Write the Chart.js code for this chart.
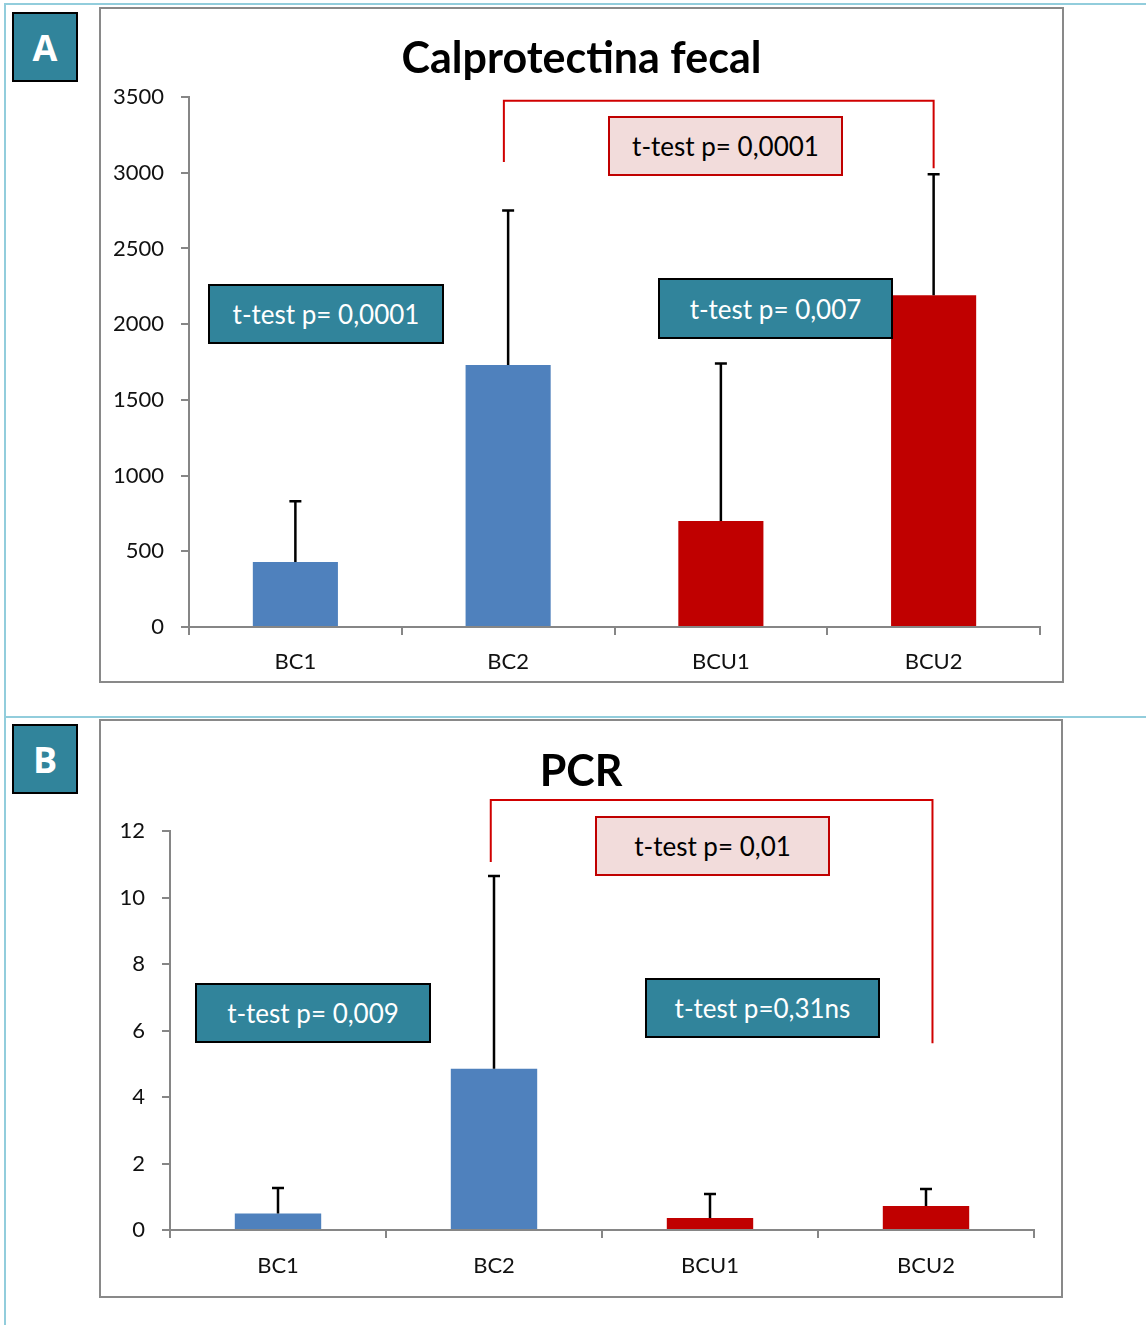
<!DOCTYPE html>
<html>
<head>
<meta charset="utf-8">
<script src="https://cdn.jsdelivr.net/npm/chart.js@4.4.1/dist/chart.umd.min.js"></script>
<style>
  body { margin: 0; background: #fff; width: 1146px; height: 1325px; position: relative; overflow: hidden; font-family: Lato, sans-serif; }
  .rule { position: absolute; background: #92CDDC; }
  .frame { position: absolute; border: 2px solid #898989; box-sizing: border-box; background: #fff; }
  .frame canvas { display: block; }
  .tag { position: absolute; width: 66px; height: 70px; box-sizing: border-box; background: #31849B; border: 2px solid #000;
         color: #fff; font: bold 36px "Open Sans", sans-serif; display: flex; align-items: center; justify-content: center; }
  .note { position: absolute; box-sizing: border-box; display: flex; align-items: center; justify-content: center;
          font: 26px Lato, sans-serif; white-space: nowrap; }
  .teal { background: #31849B; border: 2px solid #000; color: #fff; }
  .pink { background: #F2DCDB; border: 2px solid #C00000; color: #000; }
</style>
</head>
<body>
<div class="rule" style="left:4px;top:3px;width:1142px;height:2px"></div>
<div class="rule" style="left:4px;top:3px;width:2px;height:1322px"></div>
<div class="rule" style="left:4px;top:716px;width:1142px;height:2px"></div>

<div class="tag" style="left:12px;top:12px">A</div>
<div class="tag" style="left:12px;top:724px">B</div>

<div class="frame" style="left:99px;top:7px;width:965px;height:676px"><canvas id="calpro" width="961" height="672"></canvas></div>
<div class="frame" style="left:99px;top:719px;width:964px;height:579px"><canvas id="pcr" width="960" height="575"></canvas></div>

<div class="note pink" style="left:608px;top:116px;width:235px;height:60px">t-test p= 0,0001</div>
<div class="note teal" style="left:208px;top:284px;width:236px;height:60px">t-test p= 0,0001</div>
<div class="note teal" style="left:658px;top:278px;width:235px;height:61px">t-test p= 0,007</div>

<div class="note pink" style="left:595px;top:816px;width:235px;height:60px">t-test p= 0,01</div>
<div class="note teal" style="left:195px;top:983px;width:236px;height:60px">t-test p= 0,009</div>
<div class="note teal" style="left:645px;top:978px;width:235px;height:60px">t-test p=0,31ns</div>

<script>
// Groups
const categories = ['BC1', 'BC2', 'BCU1', 'BCU2'];
const barColors = ['#4F81BD', '#4F81BD', '#C00000', '#C00000'];

// Fecal calprotectin: means and upper deviation
const calproMeans = [430, 1730, 700, 2190];
const calproErrors = [400, 1020, 1040, 800];
const calproMax = 3500;
const calproStep = 500;

// PCR: means and upper deviation
const pcrMeans = [0.5, 4.85, 0.36, 0.72];
const pcrErrors = [0.76, 5.8, 0.72, 0.51];
const pcrMax = 12;
const pcrStep = 2;

// Comparison brackets (category positions and axis values)
const calproBracket = { from: 0.98, to: 3, top: 3475, leftEnd: 3070, rightEnd: 3030 };
const pcrBracket = { from: 0.985, to: 3.03, top: 12.93, leftEnd: 11.07, rightEnd: 5.62 };

const AXIS_GREY = '#868686';

// Upper error whiskers with a flat cap
const errorBars = {
  id: 'errorBars',
  afterDatasetsDraw(chart) {
    const ctx = chart.ctx;
    const y = chart.scales.y;
    chart.data.datasets.forEach((ds, di) => {
      const meta = chart.getDatasetMeta(di);
      meta.data.forEach((bar, i) => {
        const top = y.getPixelForValue(ds.data[i] + ds.errors[i]);
        ctx.save();
        ctx.strokeStyle = '#000';
        ctx.lineWidth = 2.5;
        ctx.beginPath();
        ctx.moveTo(bar.x, bar.y);
        ctx.lineTo(bar.x, top);
        ctx.moveTo(bar.x - 6, top);
        ctx.lineTo(bar.x + 6, top);
        ctx.stroke();
        ctx.restore();
      });
    });
  }
};

// Red bracket joining two groups
const bracket = {
  id: 'bracket',
  afterDatasetsDraw(chart, args, opts) {
    const b = opts.spec;
    if (!b) return;
    const x = chart.scales.x, y = chart.scales.y, ctx = chart.ctx;
    const x1 = x.getPixelForValue(b.from), x2 = x.getPixelForValue(b.to);
    ctx.save();
    ctx.strokeStyle = '#D00000';
    ctx.lineWidth = 2;
    ctx.beginPath();
    ctx.moveTo(x1, y.getPixelForValue(b.leftEnd));
    ctx.lineTo(x1, y.getPixelForValue(b.top));
    ctx.lineTo(x2, y.getPixelForValue(b.top));
    ctx.lineTo(x2, y.getPixelForValue(b.rightEnd));
    ctx.stroke();
    ctx.restore();
  }
};

// Bold heading centred on the canvas
const heading = {
  id: 'heading',
  afterDraw(chart, args, opts) {
    const ctx = chart.ctx;
    ctx.save();
    ctx.font = 'bold 43px Lato, sans-serif';
    ctx.fillStyle = '#000';
    ctx.textAlign = 'center';
    ctx.textBaseline = 'middle';
    ctx.fillText(opts.text, chart.width / 2, opts.y);
    ctx.restore();
  }
};

function buildChart(id, means, errors, max, step, geo, title, spec) {
  return new Chart(document.getElementById(id), {
    type: 'bar',
    data: {
      labels: categories,
      datasets: [{
        data: means,
        errors: errors,
        backgroundColor: barColors,
        borderWidth: 0,
        barPercentage: 0.4,
        categoryPercentage: 1
      }]
    },
    options: {
      responsive: false,
      animation: false,
      devicePixelRatio: 1,
      layout: { padding: { top: geo.top, right: geo.right, left: 0, bottom: 0 } },
      plugins: {
        legend: { display: false },
        tooltip: { enabled: false },
        title: { display: false },
        heading: { text: title, y: geo.titleY },
        bracket: { spec: spec }
      },
      scales: {
        x: {
          grid: { offset: true, drawOnChartArea: false, drawTicks: true, tickLength: 8, color: AXIS_GREY, lineWidth: 2 },
          border: { color: AXIS_GREY, width: 2 },
          ticks: { color: '#111', font: { family: 'Lato', size: 22 }, padding: geo.xPad },
          afterFit(s) { s.height = geo.xh; }
        },
        y: {
          min: 0,
          max: max,
          ticks: {
            stepSize: step,
            color: '#111',
            font: { family: 'Lato', size: 22 },
            padding: 17,
            callback: (v) => String(v)
          },
          grid: { drawOnChartArea: false, drawTicks: true, tickLength: 8, color: AXIS_GREY, lineWidth: 2 },
          border: { color: AXIS_GREY, width: 2 },
          afterFit(s) { s.width = geo.left; }
        }
      }
    },
    plugins: [errorBars, bracket, heading]
  });
}

buildChart('calpro', calproMeans, calproErrors, calproMax, calproStep,
  { left: 88, top: 88, right: 22, xh: 54, xPad: 14, titleY: 50 }, 'Calprotectina fecal', calproBracket);
buildChart('pcr', pcrMeans, pcrErrors, pcrMax, pcrStep,
  { left: 69, top: 110, right: 27, xh: 66, xPad: 15, titleY: 51 }, 'PCR', pcrBracket);
</script>
</body>
</html>
